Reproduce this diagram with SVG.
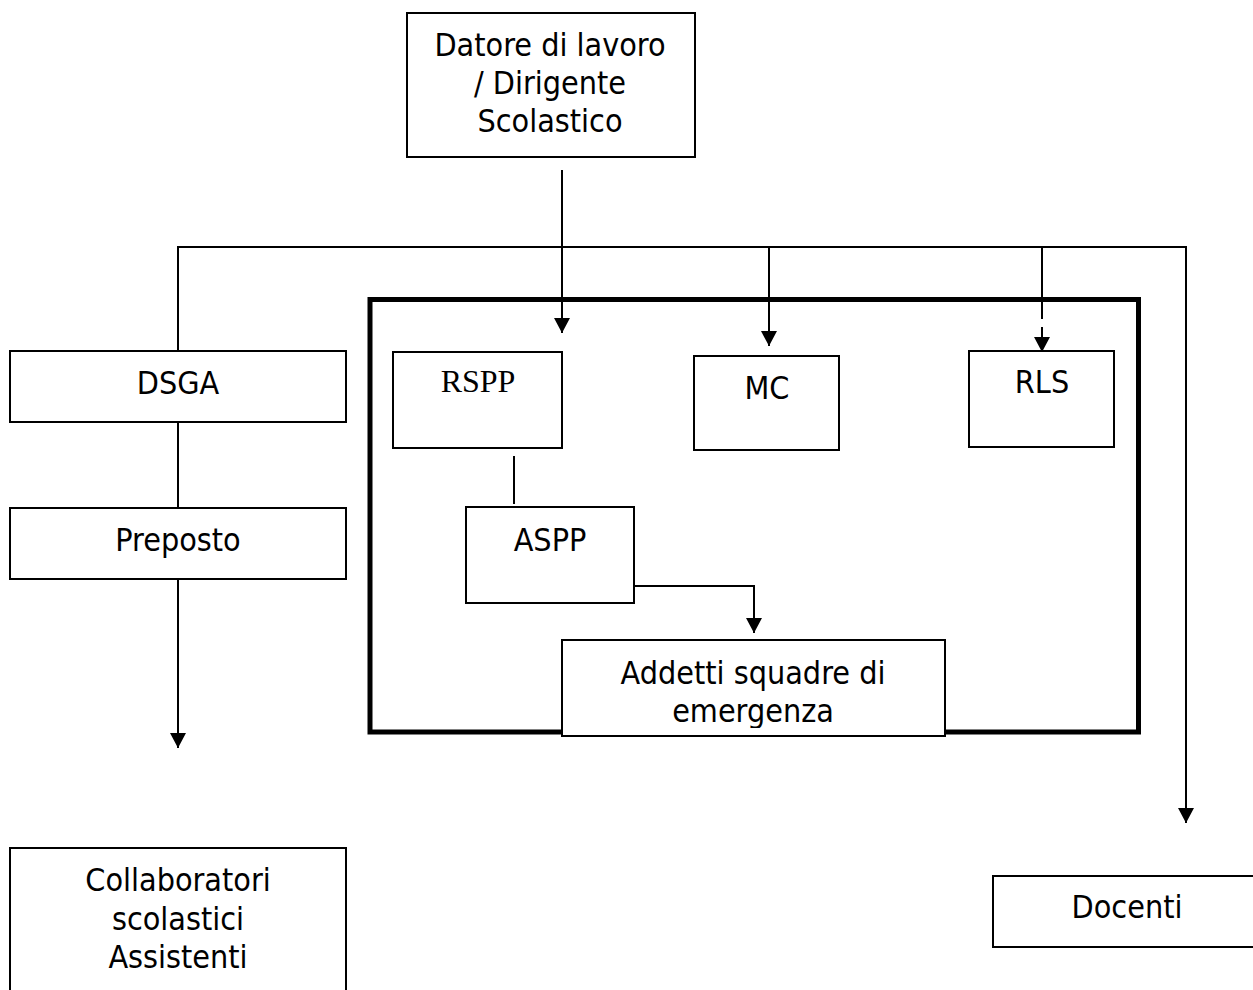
<svg xmlns="http://www.w3.org/2000/svg" width="1253" height="990" viewBox="0 0 1253 990">
<style>
.box{fill:#fff;stroke:#000;stroke-width:2}
.t{font-family:"DejaVu Sans Condensed","DejaVu Sans",sans-serif;font-size:32px;fill:#000;text-anchor:middle}
.ts{font-family:"Liberation Serif",serif;font-size:32px;fill:#000;text-anchor:middle}
.ln{fill:none;stroke:#000;stroke-width:2}
</style>
<defs>
<marker id="ah" markerUnits="userSpaceOnUse" markerWidth="16" markerHeight="16" refX="15" refY="8" orient="auto">
<path d="M0,0 L15,8 L0,16 z" fill="#000"/>
</marker>
<clipPath id="clipAdd"><rect x="562" y="640" width="383" height="88"/></clipPath>
</defs>
<rect width="1253" height="990" fill="#fff"/>
<g id="frame">
<rect x="370" y="299.5" width="768.5" height="432.5" fill="none" stroke="#000" stroke-width="5"/>
</g>
<g id="connectors">
<path class="ln" d="M562,170 V333" marker-end="url(#ah)"/>
<path class="ln" d="M178,350 V247 H1186 V823" marker-end="url(#ah)"/>
<path class="ln" d="M769,247 V346" marker-end="url(#ah)"/>
<path class="ln" d="M1042,247 V319"/>
<path class="ln" d="M1042,327 V352" marker-end="url(#ah)"/>
<path class="ln" d="M178,422 V508"/>
<path class="ln" d="M178,579 V748" marker-end="url(#ah)"/>
<path class="ln" d="M514,456 V504"/>
<path class="ln" d="M634,586 H754 V633" marker-end="url(#ah)"/>
</g>
<g id="datore">
<rect class="box" x="407" y="13" width="288" height="144"/>
<text class="t" x="550" y="56">Datore di lavoro</text>
<text class="t" x="550" y="94">/ Dirigente</text>
<text class="t" x="550" y="132">Scolastico</text>
</g>
<g id="dsga">
<rect class="box" x="10" y="351" width="336" height="71"/>
<text class="t" x="178" y="394">DSGA</text>
</g>
<g id="preposto">
<rect class="box" x="10" y="508" width="336" height="71"/>
<text class="t" x="178" y="551">Preposto</text>
</g>
<g id="rspp">
<rect class="box" x="393" y="352" width="169" height="96"/>
<text class="ts" x="478" y="392">RSPP</text>
</g>
<g id="mc">
<rect class="box" x="694" y="356" width="145" height="94"/>
<text class="t" x="767" y="399">MC</text>
</g>
<g id="rls">
<rect class="box" x="969" y="351" width="145" height="96"/>
<text class="t" x="1042" y="393">RLS</text>
</g>
<g id="aspp">
<rect class="box" x="466" y="507" width="168" height="96"/>
<text class="t" x="550" y="551">ASPP</text>
</g>
<g id="addetti">
<rect class="box" x="562" y="640" width="383" height="96"/>
<g clip-path="url(#clipAdd)">
<text class="t" x="753" y="684">Addetti squadre di</text>
<text class="t" x="753" y="722">emergenza</text>
</g>
</g>
<g id="collaboratori">
<rect class="box" x="10" y="848" width="336" height="150"/>
<text class="t" x="178" y="891">Collaboratori</text>
<text class="t" x="178" y="930">scolastici</text>
<text class="t" x="178" y="968">Assistenti</text>
</g>
<g id="docenti">
<rect class="box" x="993" y="876" width="270" height="71"/>
<text class="t" x="1127" y="918">Docenti</text>
</g>
</svg>
